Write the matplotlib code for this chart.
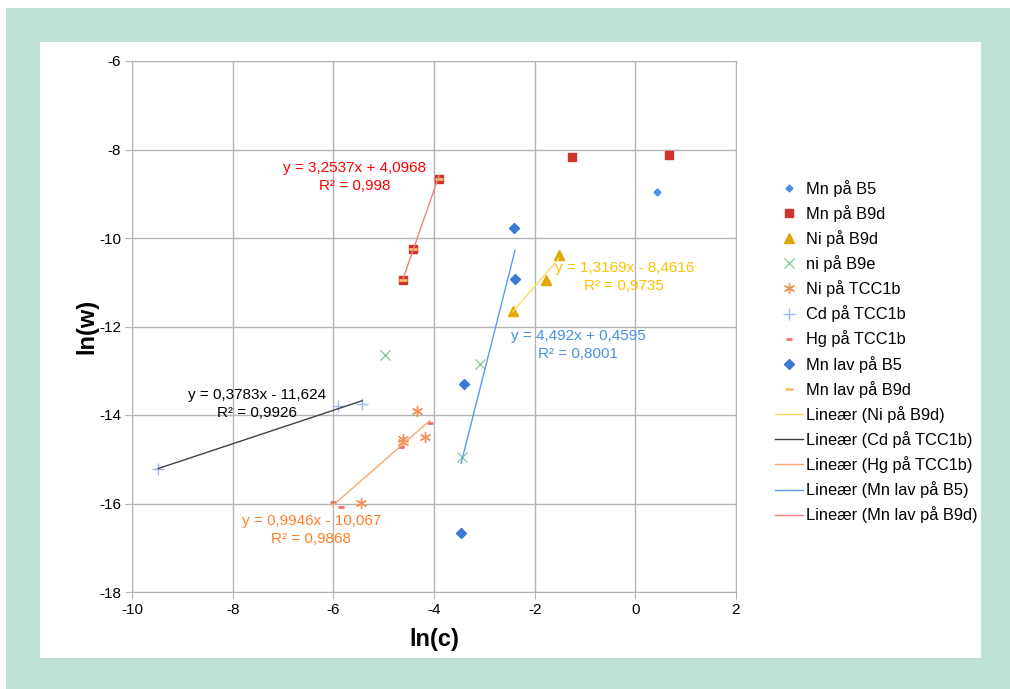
import matplotlib.pyplot as plt
from matplotlib.patches import Rectangle

plt.rcParams['font.family'] = ['Liberation Sans', 'DejaVu Sans']
plt.rcParams['axes.unicode_minus'] = False

# data
mn_b5_x = [0.43, -2.41, -2.39, -3.40, -3.46]
mn_b5_y = [-8.96, -9.77, -10.93, -13.30, -16.67]
mn_b9d_x = [-1.25, 0.67, -3.90, -4.42, -4.62]
mn_b9d_y = [-8.18, -8.12, -8.67, -10.25, -10.95]
ni_b9d_x = [-2.43, -1.77, -1.52]
ni_b9d_y = [-11.65, -10.95, -10.38]
ni_b9e_x = [-4.97, -3.09, -3.44]
ni_b9e_y = [-12.64, -12.85, -14.95]
ni_tcc_x = [-4.34, -4.62, -4.62, -4.18, -5.45]
ni_tcc_y = [-13.91, -14.54, -14.60, -14.50, -15.99]
cd_tcc_x = [-9.48, -5.91, -5.43]
cd_tcc_y = [-15.22, -13.80, -13.75]
hg_tcc_x = [-6.01, -5.85, -4.66, -4.08]
hg_tcc_y = [-15.97, -16.08, -14.72, -14.18]
mn_lav_b5_x = [-2.41, -2.39, -3.40, -3.46]
mn_lav_b5_y = [-9.77, -10.93, -13.30, -16.67]
mn_lav_b9d_x = [-3.90, -4.42, -4.62]
mn_lav_b9d_y = [-8.67, -10.25, -10.95]

# trendline coefficients (slope, intercept) as printed on the chart
fit_ni_b9d = (1.3169, -8.4616)
fit_cd = (0.3783, -11.624)
fit_hg = (0.9946, -10.067)
fit_mn_lav_b5 = (4.492, 0.4595)
fit_mn_lav_b9d = (3.2537, 4.0968)

fig = plt.figure(figsize=(10.1, 6.89), dpi=100)
fig.patch.set_facecolor('white')
fig.patches.append(Rectangle((6/1010, 0), 1 - 6/1010, 1 - 8/689, transform=fig.transFigure,
                             facecolor='#bfe1d3', edgecolor='none', zorder=-2))
fig.patches.append(Rectangle((40/1010, 31/689), 941/1010, 616/689, transform=fig.transFigure,
                             facecolor='white', edgecolor='none', zorder=-1))

ax = fig.add_axes([132/1010, 97/689, 604/1010, 531/689])
ax.set_xlim(-10, 2)
ax.set_ylim(-18, -6)
ax.set_xticks(range(-10, 3, 2))
ax.set_yticks(range(-18, -5, 2))
ax.grid(True, color='#b3b3b3', linewidth=1)
ax.set_axisbelow(True)
for s in ax.spines.values():
    s.set_color('#b3b3b3')
ax.tick_params(direction='out', length=5, color='#b3b3b3', labelsize=11, pad=3)


def trend(xs, fit):
    lo, hi = min(xs), max(xs)
    return [lo, hi], [fit[0] * lo + fit[1], fit[0] * hi + fit[1]]


h = []
h += ax.plot(mn_b5_x, mn_b5_y, 'D', color='#4a90e2', ms=3.5, ls='none', label='Mn på B5')
h += ax.plot(mn_b9d_x, mn_b9d_y, 's', color='#d0342c', ms=6, ls='none', label='Mn på B9d')
h += ax.plot(ni_b9d_x, ni_b9d_y, '^', color='#e0a800', ms=6.5, ls='none', label='Ni på B9d')
h += ax.plot(ni_b9e_x, ni_b9e_y, 'x', color='#8fcb9b', ms=7, mew=1, ls='none', label='ni på B9e')
h += ax.plot(ni_tcc_x, ni_tcc_y, marker=(6, 2, 0), color='#f0935a', ms=8, mew=1, ls='none', label='Ni på TCC1b')
h += ax.plot(cd_tcc_x, cd_tcc_y, '+', color='#9db9f0', ms=8, mew=1, ls='none', label='Cd på TCC1b')
h += ax.plot(hg_tcc_x, hg_tcc_y, '_', color='#f07070', ms=5, mew=2, ls='none', label='Hg på TCC1b')
h += ax.plot(mn_lav_b5_x, mn_lav_b5_y, 'D', color='#3c78d8', ms=5, ls='none', label='Mn lav på B5')
h += ax.plot(mn_lav_b9d_x, mn_lav_b9d_y, '_', color='#f5c26b', ms=6, mew=2, ls='none', label='Mn lav på B9d')

tx, ty = trend(ni_b9d_x, fit_ni_b9d)
h += ax.plot(tx, ty, color='#ffd966', lw=1, label='Lineær (Ni på B9d)')
tx, ty = trend(cd_tcc_x, fit_cd)
h += ax.plot(tx, ty, color='#404040', lw=1, label='Lineær (Cd på TCC1b)')
tx, ty = trend(hg_tcc_x, fit_hg)
h += ax.plot(tx, ty, color='#f8a66c', lw=1, label='Lineær (Hg på TCC1b)')
tx, ty = trend(mn_lav_b5_x, fit_mn_lav_b5)
h += ax.plot(tx, ty, color='#5b9bf0', lw=1, label='Lineær (Mn lav på B5)')
tx, ty = trend(mn_lav_b9d_x, fit_mn_lav_b9d)
h += ax.plot(tx, ty, color='#f08080', lw=1, label='Lineær (Mn lav på B9d)')

# equation labels
lbl = dict(fontsize=11, ha='center', va='center', linespacing=1.3)
ax.text(-5.57, -8.62, 'y = 3,2537x + 4,0968\nR² = 0,998', color='#ff0000', **lbl)
ax.text(-7.52, -13.75, 'y = 0,3783x - 11,624\nR² = 0,9926', color='black', **lbl)
ax.text(-6.44, -16.60, 'y = 0,9946x - 10,067\nR² = 0,9868', color='#ff7f27', **lbl)
ax.text(-0.22, -10.88, 'y = 1,3169x - 8,4616\nR² = 0,9735', color='#ffc000', **lbl)
ax.text(-1.14, -12.42, 'y = 4,492x + 0,4595\nR² = 0,8001', color='#4a8fe7', **lbl)

ax.set_xlabel('ln(c)', fontsize=17, fontweight='bold', labelpad=8)
ax.set_ylabel('ln(w)', fontsize=17, fontweight='bold')
ax.yaxis.set_label_coords(-0.055, 0.5)

fig.legend(handles=h, loc='upper left', bbox_to_anchor=(768/1010, 1 - 173/689),
           frameon=False, fontsize=11.8, labelspacing=0.5, handlelength=1.75,
           handletextpad=0.15, borderaxespad=0)

fig.savefig('out.png', dpi=100)
